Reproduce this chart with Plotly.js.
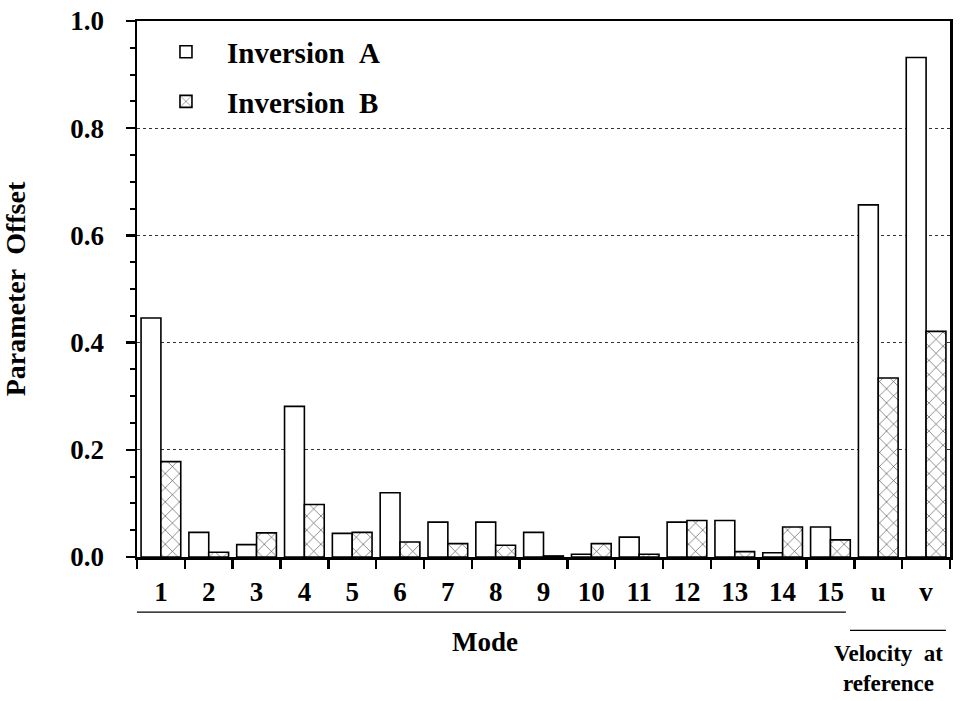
<!DOCTYPE html>
<html>
<head>
<meta charset="utf-8">
<script src="https://cdn.plot.ly/plotly-3.0.1.min.js"></script>
<style>html,body{margin:0;padding:0;background:#fff;}#chart{width:970px;height:701px;}</style>
</head>
<body>
<div id="chart"></div>
<script>
const categories = ["1","2","3","4","5","6","7","8","9","10","11","12","13","14","15","u","v"];
const inversionA = [0.446,0.046,0.023,0.281,0.044,0.120,0.065,0.065,0.046,0.005,0.037,0.065,0.068,0.008,0.056,0.657,0.932];
const inversionB = [0.178,0.009,0.045,0.098,0.046,0.028,0.025,0.022,0.002,0.025,0.005,0.068,0.010,0.056,0.032,0.334,0.421];
const seriesNames = ["Inversion\u00a0\u00a0A","Inversion\u00a0\u00a0B"];
const yTicks = [0,0.2,0.4,0.6,0.8,1.0];

const FONT = "Liberation Serif, Times New Roman, serif";

const traces = [
  {
    type: "bar", x: categories, y: inversionA, name: seriesNames[0], legendgroup: "a",
    marker: {color: "#ffffff", line: {color: "#000000", width: 1.6}}
  },
  {
    type: "bar", x: categories, y: inversionB, name: seriesNames[1], legendgroup: "b",
    marker: {color: "#ffffff", line: {color: "#000000", width: 1.6},
      pattern: {shape: "x", size: 10, solidity: 0.1, fgcolor: "#222222", bgcolor: "#ffffff"}}
  }
];

const layout = {
  width: 970, height: 701,
  margin: {l: 137, r: 20, t: 21, b: 143.5},
  paper_bgcolor: "#ffffff", plot_bgcolor: "#ffffff",
  font: {family: FONT, color: "#000000", size: 27, weight: "bold"},
  barmode: "group", bargap: 0.17, bargroupgap: 0,
  showlegend: true,
  legend: {x: 0.0098, y: 0.99, xanchor: "left", yanchor: "top", bgcolor: "rgba(0,0,0,0)", itemwidth: 72,
    font: {family: FONT, size: 29, weight: "bold", color: "#000"}, tracegroupgap: 9, traceorder: "grouped"},
  xaxis: {
    type: "category", tickson: "boundaries", ticks: "outside", ticklen: 9, tickwidth: 2.5, tickcolor: "#000",
    showline: true, linewidth: 2.5, linecolor: "#000", mirror: true, showgrid: false,
    tickfont: {family: FONT, size: 27, weight: "bold", color: "#000"}, ticklabelstandoff: 9,
    fixedrange: true
  },
  yaxis: {
    range: [0, 1], tickvals: yTicks, tickformat: ".1f", ticks: "outside", ticklen: 9, tickwidth: 2.5, tickcolor: "#000",
    minor: {dtick: 0.05, ticks: "outside", ticklen: 5, tickwidth: 2, tickcolor: "#000", showgrid: false},
    showline: true, linewidth: 2.5, linecolor: "#000", mirror: true,
    showgrid: true, gridcolor: "#333333", gridwidth: 1, griddash: "dot", zeroline: false,
    tickfont: {family: FONT, size: 27, weight: "bold", color: "#000"}, ticklabelstandoff: 16,
    title: {text: "Parameter\u00a0\u00a0Offset", font: {family: FONT, size: 28, weight: "bold", color: "#000"}, standoff: 38},
    fixedrange: true
  },
  shapes: [
    {type: "line", xref: "paper", yref: "paper", x0: 0, x1: 0.872, y0: -0.1029, y1: -0.1029, line: {color: "#000", width: 1.3}},
    {type: "line", xref: "paper", yref: "paper", x0: 0.877, x1: 0.995, y0: -0.137, y1: -0.137, line: {color: "#000", width: 1.3}}
  ],
  annotations: [
    {xref: "paper", yref: "paper", x: 0.428, y: -0.159, text: "Mode", showarrow: false, xanchor: "center", yanchor: "middle",
      font: {family: FONT, size: 27, weight: "bold", color: "#000"}},
    {xref: "paper", yref: "paper", x: 0.924, y: -0.208, text: "Velocity\u00a0\u00a0at<br>reference", showarrow: false, xanchor: "center", yanchor: "middle",
      align: "center", borderpad: 0, font: {family: FONT, size: 23, weight: "bold", color: "#000"}}
  ]
};

Plotly.newPlot("chart", traces, layout, {staticPlot: true, displayModeBar: false});
</script>
</body>
</html>
